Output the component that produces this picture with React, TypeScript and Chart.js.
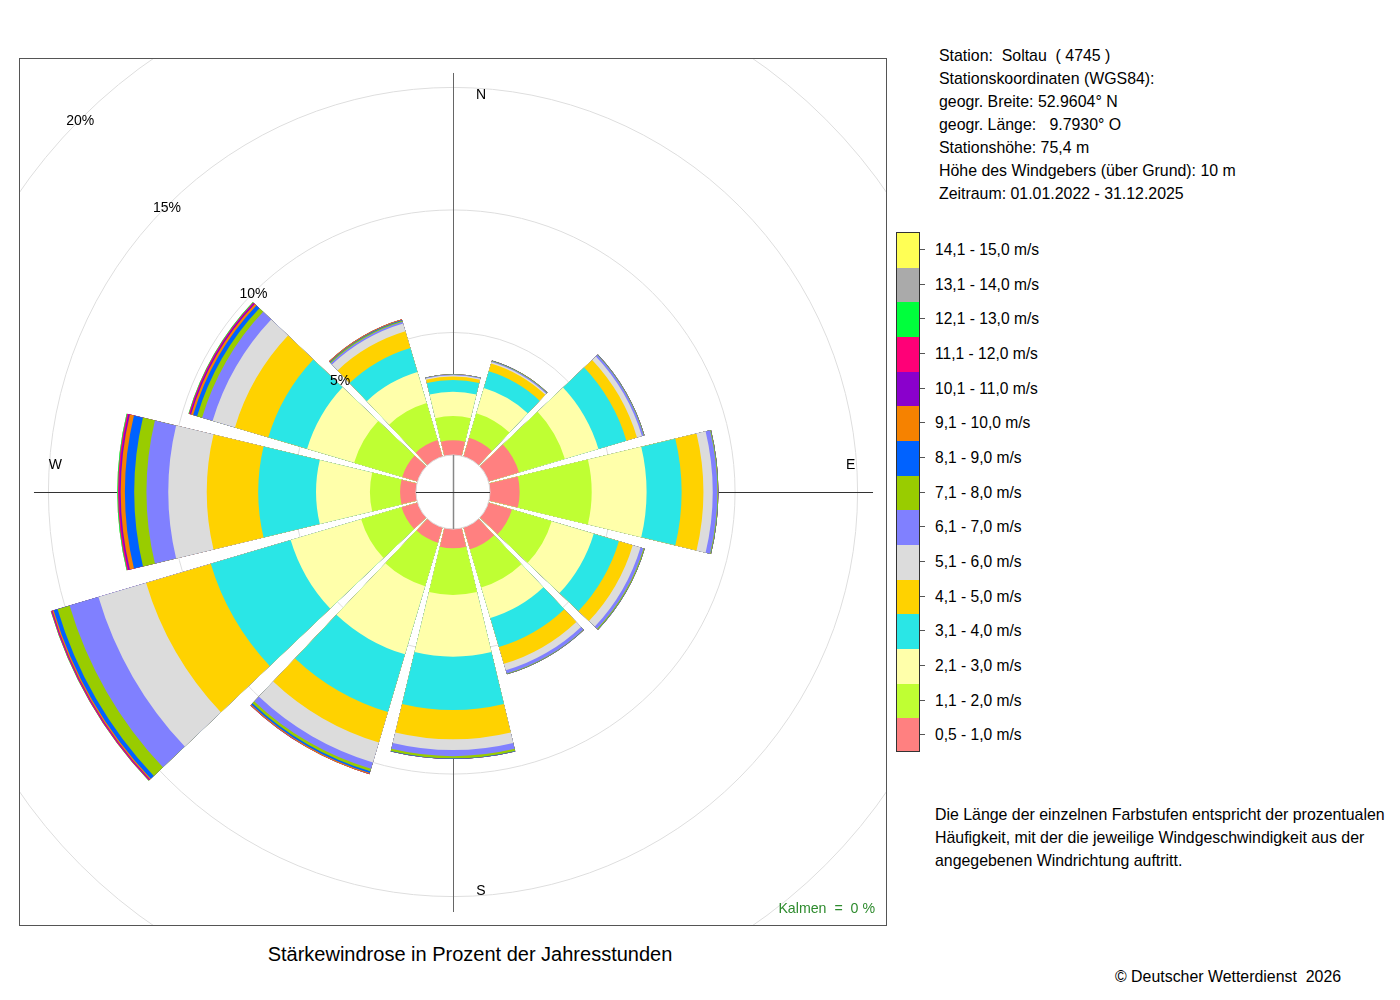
import { useEffect, useRef } from "react"
import Chart from "chart.js/auto"

// 12 sectors of 30°, starting at north, clockwise
const DIRECTIONS = ["360°", "30°", "60°", "90°", "120°", "150°", "180°", "210°", "240°", "270°", "300°", "330°"]

const SPEED_CLASSES = [
  "0,5 - 1,0 m/s",
  "1,1 - 2,0 m/s",
  "2,1 - 3,0 m/s",
  "3,1 - 4,0 m/s",
  "4,1 - 5,0 m/s",
  "5,1 - 6,0 m/s",
  "6,1 - 7,0 m/s",
  "7,1 - 8,0 m/s",
  "8,1 - 9,0 m/s",
  "9,1 - 10,0 m/s",
  "10,1 - 11,0 m/s",
  "11,1 - 12,0 m/s",
  "12,1 - 13,0 m/s",
  "13,1 - 14,0 m/s",
  "14,1 - 15,0 m/s",
]

const SPEED_COLORS = [
  "#ff8080",
  "#bfff33",
  "#ffffaa",
  "#2ae6e6",
  "#ffd200",
  "#dcdcdc",
  "#8080ff",
  "#99cc00",
  "#0062ff",
  "#f68200",
  "#8a00cc",
  "#ff0077",
  "#00ff3c",
  "#aaaaaa",
  "#ffff55",
]

// share of hours (%) per speed class, one list per direction
const freqN = [0.6, 0.99, 0.99, 0.48, 0.14, 0.05, 0.04, 0.01, 0, 0, 0, 0, 0, 0, 0]
const freqNNE = [0.8, 1.04, 1.08, 0.71, 0.33, 0.06, 0.04, 0.02, 0.01, 0, 0, 0, 0, 0, 0]
const freqNE = [1.3, 1.95, 1.43, 1.19, 0.45, 0.21, 0.08, 0.02, 0.01, 0, 0, 0, 0, 0, 0]
const freqE = [1.21, 2.94, 2.24, 1.43, 0.89, 0.38, 0.19, 0.03, 0.01, 0, 0, 0, 0, 0, 0]
const freqESE = [1.0, 1.69, 1.79, 1.07, 0.59, 0.33, 0.13, 0.04, 0.01, 0, 0, 0, 0, 0, 0]
const freqSSE = [0.93, 1.62, 1.3, 1.24, 0.71, 0.28, 0.14, 0.02, 0.01, 0, 0, 0, 0, 0, 0]
const freqS = [0.79, 1.9, 2.52, 2.18, 1.19, 0.44, 0.25, 0.09, 0.02, 0, 0, 0, 0, 0, 0]
const freqSSW = [0.65, 1.85, 2.9, 2.45, 1.3, 0.85, 0.27, 0.11, 0.07, 0.04, 0.01, 0, 0, 0, 0]
const freqWSW = [0.68, 1.72, 3.0, 3.4, 2.75, 2.03, 1.23, 0.51, 0.17, 0.05, 0.03, 0.03, 0.01, 0, 0]
const freqW = [0.65, 1.23, 2.2, 2.36, 2.1, 1.57, 0.89, 0.5, 0.38, 0.17, 0.06, 0.05, 0.03, 0, 0]
const freqWNW = [0.65, 2.05, 2.0, 1.65, 1.42, 0.95, 0.45, 0.21, 0.17, 0.09, 0.05, 0.04, 0.02, 0, 0]
const freqNNW = [0.7, 1.58, 1.32, 1.02, 0.71, 0.33, 0.08, 0.04, 0.03, 0.03, 0, 0, 0, 0, 0]

const FREQUENCIES = [freqN, freqNNE, freqNE, freqE, freqESE, freqSSE, freqS, freqSSW, freqWSW, freqW, freqWNW, freqNNW]

const RINGS = [5, 10, 15, 20]
const COMPASS = [
  { label: "N", deg: 0 },
  { label: "E", deg: 90 },
  { label: "S", deg: 180 },
  { label: "W", deg: 270 },
]

const SECTOR_ANGLE = 27
const GAP_ANGLE = 3
// 0 % sits on the edge of the calm circle
const SCALE_MIN = -1.51
const SCALE_MAX = 16.16

const STATION_INFO = [
  "Station:  Soltau  ( 4745 )",
  "Stationskoordinaten (WGS84):",
  "geogr. Breite: 52.9604° N",
  "geogr. Länge:   9.7930° O",
  "Stationshöhe: 75,4 m",
  "Höhe des Windgebers (über Grund): 10 m",
  "Zeitraum: 01.01.2022 - 31.12.2025",
]

const NOTE = [
  "Die Länge der einzelnen Farbstufen entspricht der prozentualen",
  "Häufigkeit, mit der die jeweilige Windgeschwindigkeit aus der",
  "angegebenen Windrichtung auftritt.",
]

const FONT = "'Liberation Sans', Arial, Helvetica, sans-serif"

function cumulative(freq: number[], upTo: number) {
  let s = 0
  for (let i = 0; i <= upTo; i++) s += freq[i]
  return s
}

const totals = FREQUENCIES.map((f) => cumulative(f, f.length - 1))
const maxTotal = Math.max(...totals)

const roseDecor = {
  id: "roseDecor",
  beforeDatasetsDraw(chart: any) {
    const r = chart.scales.r
    const ctx = chart.ctx
    const len = r.getDistanceFromCenterForValue(maxTotal)
    const cx = r.xCenter + 0.5
    const cy = r.yCenter + 0.5
    ctx.save()
    ctx.lineWidth = 1
    ctx.strokeStyle = "#666"
    ctx.beginPath()
    ctx.moveTo(cx, cy - len)
    ctx.lineTo(cx, cy + len)
    ctx.stroke()
    ctx.strokeStyle = "#333"
    ctx.beginPath()
    ctx.moveTo(cx - len, cy)
    ctx.lineTo(cx + len, cy)
    ctx.stroke()
    ctx.restore()
  },
  afterDatasetsDraw(chart: any) {
    const r = chart.scales.r
    const ctx = chart.ctx
    const cx = r.xCenter
    const cy = r.yCenter
    const r0 = r.getDistanceFromCenterForValue(0)
    ctx.save()
    // calm circle
    ctx.fillStyle = "#fff"
    ctx.beginPath()
    ctx.arc(cx, cy, r0, 0, Math.PI * 2)
    ctx.fill()
    ctx.strokeStyle = "#d8d8d8"
    ctx.lineWidth = 1
    ctx.stroke()
    ctx.strokeStyle = "#888"
    ctx.lineWidth = 1.5
    ctx.beginPath()
    ctx.moveTo(cx + 0.5, cy - r0)
    ctx.lineTo(cx + 0.5, cy + r0)
    ctx.stroke()
    ctx.strokeStyle = "#333"
    ctx.lineWidth = 1
    ctx.beginPath()
    ctx.moveTo(cx - r0, cy + 0.5)
    ctx.lineTo(cx + r0, cy + 0.5)
    ctx.stroke()

    // ring labels along the north-west diagonal
    ctx.fillStyle = "#000"
    ctx.font = `14px ${FONT}`
    ctx.textAlign = "center"
    ctx.textBaseline = "middle"
    RINGS.forEach((v) => {
      const d = r.getDistanceFromCenterForValue(v)
      ctx.fillText(`${v}%`, cx - d * Math.SQRT1_2, cy - d * Math.SQRT1_2 + 2)
    })

    // compass letters, set beside the axis lines
    const dl = r.getDistanceFromCenterForValue(maxTotal) * 0.948
    const side = 28
    COMPASS.forEach(({ label, deg }) => {
      const a = (deg * Math.PI) / 180
      const sx = Math.sin(a)
      const sy = -Math.cos(a)
      const x = cx + sx * dl + (deg % 180 === 0 ? side : 0)
      const y = cy + sy * dl - (deg % 180 === 0 ? 0 : side) + 1
      ctx.fillText(label, x, y)
    })
    ctx.restore()
  },
}

function WindRose() {
  const chartRef = useRef<HTMLCanvasElement>(null)
  const chartInstance = useRef<Chart | null>(null)

  useEffect(() => {
    if (!chartRef.current) return
    if (chartInstance.current) chartInstance.current.destroy()
    const ctx = chartRef.current.getContext("2d")
    if (!ctx) return

    // every sector is followed by a small empty gap element
    const labels = DIRECTIONS.flatMap((d) => [d, ""])
    const datasets = SPEED_CLASSES.map((label, k) => ({
      label,
      data: FREQUENCIES.flatMap((f) => [cumulative(f, k), 0]),
      backgroundColor: FREQUENCIES.flatMap(() => [SPEED_COLORS[k], "rgba(0,0,0,0)"]),
      angle: (c: any) => (c.dataIndex % 2 === 0 ? SECTOR_ANGLE : GAP_ANGLE),
      borderWidth: 0,
    }))

    chartInstance.current = new Chart(ctx, {
      type: "polarArea",
      data: { labels, datasets },
      options: {
        responsive: false,
        animation: false,
        events: [],
        layout: { padding: 0 },
        scales: {
          r: {
            min: SCALE_MIN,
            max: SCALE_MAX,
            startAngle: -SECTOR_ANGLE / 2,
            ticks: { display: false },
            pointLabels: { display: false },
            angleLines: { display: false },
            grid: { circular: true, color: "#dedede", lineWidth: 1 },
            afterBuildTicks: (scale: any) => {
              scale.ticks = RINGS.map((v) => ({ value: v }))
            },
          },
        },
        plugins: {
          legend: { display: false },
          tooltip: { enabled: false },
        },
      } as any,
      plugins: [roseDecor],
    })

    return () => {
      if (chartInstance.current) {
        chartInstance.current.destroy()
        chartInstance.current = null
      }
    }
  }, [])

  return <canvas ref={chartRef} width={866} height={866} style={{ display: "block" }} />
}

export default function App() {
  const boxH = 520 / SPEED_CLASSES.length
  const legendTop = 232
  return (
    <div
      style={{
        position: "absolute",
        left: 0,
        top: 0,
        width: 1400,
        height: 1000,
        background: "#fff",
        fontFamily: FONT,
        color: "#000",
        fontSize: 15.9,
      }}
    >
      <div style={{ position: "absolute", left: 20, top: 59, width: 866, height: 866 }}>
        <WindRose />
      </div>
      <div
        style={{
          position: "absolute",
          left: 19,
          top: 58,
          width: 866,
          height: 866,
          border: "1px solid #555",
          pointerEvents: "none",
        }}
      />
      <div
        style={{
          position: "absolute",
          left: 700,
          top: 900,
          width: 175,
          textAlign: "right",
          fontSize: 14.2,
          lineHeight: "16px",
          color: "#2e8b2e",
          whiteSpace: "pre",
        }}
      >
        {"Kalmen  =  0 %"}
      </div>

      <div
        style={{
          position: "absolute",
          left: 20,
          top: 942,
          width: 900,
          textAlign: "center",
          fontSize: 20,
          lineHeight: "24px",
        }}
      >
        Stärkewindrose in Prozent der Jahresstunden
      </div>

      <div style={{ position: "absolute", left: 939, top: 43.5, lineHeight: "23px", whiteSpace: "pre" }}>
        {STATION_INFO.map((t) => (
          <div key={t}>{t}</div>
        ))}
      </div>

      <div
        style={{
          position: "absolute",
          left: 896,
          top: legendTop,
          width: 24,
          height: 520,
          border: "1px solid #333",
          boxSizing: "border-box",
          overflow: "hidden",
        }}
      >
        {SPEED_COLORS.slice()
          .reverse()
          .map((c) => (
            <div key={c} style={{ height: boxH, background: c }} />
          ))}
      </div>
      {SPEED_CLASSES.slice()
        .reverse()
        .map((label, i) => {
          const y = legendTop + (i + 0.5) * boxH
          return (
            <div key={label}>
              <div
                style={{ position: "absolute", left: 920, top: y - 0.5, width: 5, height: 1, background: "#555" }}
              />
              <div
                style={{
                  position: "absolute",
                  left: 935,
                  top: y - 11.5,
                  lineHeight: "23px",
                  fontSize: 15.6,
                  whiteSpace: "pre",
                }}
              >
                {label}
              </div>
            </div>
          )
        })}

      <div style={{ position: "absolute", left: 935, top: 802.5, lineHeight: "23px", whiteSpace: "pre" }}>
        {NOTE.map((t) => (
          <div key={t}>{t}</div>
        ))}
      </div>

      <div style={{ position: "absolute", left: 1115, top: 964.5, lineHeight: "23px", whiteSpace: "pre" }}>
        {"© Deutscher Wetterdienst  2026"}
      </div>
    </div>
  )
}
